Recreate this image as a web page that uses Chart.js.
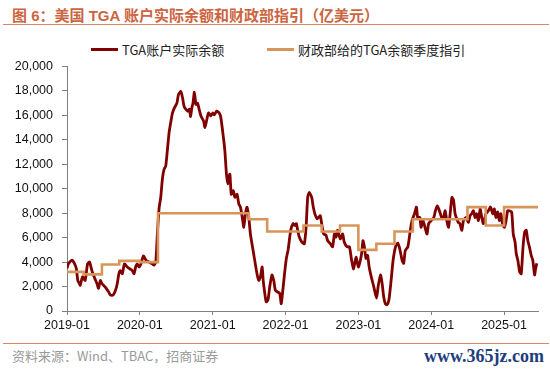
<!DOCTYPE html>
<html>
<head>
<meta charset="utf-8">
<script src="https://cdn.jsdelivr.net/npm/chart.js@4/dist/chart.umd.min.js"></script>
<style>
  html, body { margin: 0; padding: 0; background: #fff; }
  #wrap { position: relative; width: 550px; height: 373px; overflow: hidden; font-family: "Liberation Sans", "Noto Sans CJK SC", sans-serif; }
  #title { position: absolute; left: 12px; top: 4px; font: bold 15px "Liberation Sans", "Noto Sans CJK SC", sans-serif; color: #cc6440; white-space: nowrap; }
  .rule { position: absolute; left: 3px; width: 546px; height: 0; border-top: 1.5px solid #db8664; }
  #legend { position: absolute; top: 41px; left: 0; width: 550px; height: 16px; font: 13px "Noto Sans CJK SC", sans-serif; color: #222; }
  .lg { position: absolute; top: 0; display: flex; align-items: center; height: 16px; white-space: nowrap; }
  .lg i { display: inline-block; width: 27px; margin-right: 4px; }
  #source { position: absolute; left: 12px; top: 346px; font: 13px "Noto Sans CJK SC", sans-serif; color: #9a9a9a; white-space: nowrap; }
  #wm { position: absolute; right: 6px; top: 346px; font: bold 18px "Liberation Serif", "DejaVu Serif", serif; color: #1d3d7d; white-space: nowrap; }
  #box { position: absolute; left: 0; top: 50px; width: 550px; height: 290px; }
</style>
</head>
<body>
<div id="wrap">
  <div id="title">图 6：美国 TGA 账户实际余额和财政部指引（亿美元）</div>
  <div class="rule" style="top:24px"></div>
  <div id="legend">
    <div class="lg" style="left:91px"><i style="border-top:3px solid #800000"></i>TGA账户实际余额</div>
    <div class="lg" style="left:267px"><i style="border-top:3px solid #d8955b"></i>财政部给的TGA余额季度指引</div>
  </div>
  <div id="box"><canvas id="chart" width="550" height="290"></canvas></div>
  <div class="rule" style="top:343px"></div>
  <div id="source">资料来源：Wind、TBAC，招商证券</div>
  <div id="wm">www.365jz.com</div>
</div>
<script>
// TGA 实际余额（亿美元），按日期读图
var tgaDates = [
  '2019-01-01','2019-01-09','2019-01-26','2019-02-07','2019-02-17','2019-02-24','2019-03-04','2019-03-08','2019-03-20','2019-04-02',
  '2019-04-14','2019-04-24','2019-05-05','2019-05-17','2019-05-31','2019-06-08','2019-06-17','2019-06-25','2019-07-12','2019-07-29',
  '2019-08-07','2019-08-20','2019-09-01','2019-09-10','2019-09-18','2019-09-26','2019-10-05','2019-10-16','2019-10-30','2019-11-12',
  '2019-11-24','2019-12-03','2019-12-11','2019-12-19','2019-12-28','2020-01-06','2020-01-19','2020-02-01','2020-02-17','2020-03-04',
  '2020-03-12','2020-03-21','2020-03-29','2020-04-07','2020-04-15','2020-04-24','2020-05-02','2020-05-10','2020-05-18','2020-05-27',
  '2020-06-05','2020-06-13','2020-06-22','2020-07-05','2020-07-13','2020-07-25','2020-08-03','2020-08-11','2020-08-28','2020-09-06',
  '2020-09-12','2020-09-18','2020-09-24','2020-10-01','2020-10-09','2020-10-17','2020-10-25','2020-11-03','2020-11-16','2020-11-23',
  '2020-12-01','2020-12-11','2020-12-22','2021-01-01','2021-01-09','2021-01-21','2021-02-03','2021-02-11','2021-02-24','2021-03-03',
  '2021-03-11','2021-03-18','2021-03-28','2021-04-04','2021-04-14','2021-04-22','2021-05-03','2021-05-12','2021-05-20','2021-05-28',
  '2021-06-06','2021-06-14','2021-06-22','2021-07-01','2021-07-09','2021-07-25','2021-08-11','2021-08-20','2021-08-28','2021-09-06',
  '2021-09-11','2021-09-17','2021-09-26','2021-10-05','2021-10-14','2021-10-25','2021-11-03','2021-11-11','2021-11-23','2021-12-03',
  '2021-12-10','2021-12-15','2021-12-26','2022-01-05','2022-01-14','2022-01-27','2022-02-08','2022-02-16','2022-02-24','2022-03-03',
  '2022-03-11','2022-03-23','2022-04-05','2022-04-14','2022-04-22','2022-04-30','2022-05-12','2022-05-20','2022-05-28','2022-06-08',
  '2022-06-15','2022-06-24','2022-07-01','2022-07-11','2022-07-23','2022-07-31','2022-08-14','2022-08-25','2022-09-03','2022-09-11',
  '2022-09-19','2022-10-02','2022-10-14','2022-10-22','2022-11-05','2022-11-17','2022-11-28','2022-12-08','2022-12-20','2023-01-01',
  '2023-01-11','2023-01-18','2023-01-24','2023-01-31','2023-02-08','2023-02-16','2023-02-24','2023-03-03','2023-03-11','2023-03-19',
  '2023-04-02','2023-04-10','2023-04-22','2023-04-30','2023-05-08','2023-05-16','2023-05-24','2023-06-03','2023-06-14','2023-06-24',
  '2023-07-06','2023-07-17','2023-07-27','2023-08-08','2023-08-16','2023-08-24','2023-09-06','2023-09-19','2023-09-27','2023-10-09',
  '2023-10-19','2023-10-25','2023-11-05','2023-11-11','2023-11-21','2023-12-03','2023-12-11','2023-12-19','2024-01-01','2024-01-14',
  '2024-01-22','2024-01-31','2024-02-08','2024-02-16','2024-02-25','2024-03-03','2024-03-11','2024-03-19','2024-03-28','2024-04-05',
  '2024-04-14','2024-04-22','2024-04-30','2024-05-08','2024-05-16','2024-05-24','2024-06-03','2024-06-11','2024-06-24','2024-07-06',
  '2024-07-14','2024-07-22','2024-07-31','2024-08-08','2024-08-16','2024-08-25','2024-09-03','2024-09-11','2024-09-19','2024-10-02',
  '2024-10-14','2024-10-25','2024-11-05','2024-11-13','2024-11-21','2024-11-30','2024-12-08','2024-12-16','2024-12-24','2025-01-03',
  '2025-01-11','2025-01-19','2025-01-27','2025-02-08','2025-02-16','2025-02-25','2025-03-03','2025-03-11','2025-03-20','2025-03-28',
  '2025-04-06','2025-04-14','2025-04-22','2025-04-30','2025-05-08','2025-05-17','2025-05-25','2025-06-03','2025-06-08','2025-06-14'
];
var tgaValues = [
  3500,3900,4150,3900,3450,2500,2250,2100,2800,2500,
  3850,4000,3350,2800,2250,1850,2500,2250,1950,1550,
  1300,1300,1700,2250,3050,3300,3050,3850,3600,3450,
  3300,3050,3600,3850,3600,3850,4500,4150,4000,3850,
  3750,4000,6300,8450,9300,10900,11600,11850,13100,14600,
  15500,16200,16600,17000,17700,17950,17400,16700,16350,16500,
  15900,16600,17000,17900,16900,17000,16500,15950,15550,15000,
  15550,16200,15950,16200,16050,16350,16200,15800,14150,13100,
  11200,10400,11200,9550,9850,9300,9550,8750,8500,7800,
  6850,7950,8500,7650,6300,4700,3050,2500,2800,3600,
  2500,1700,750,900,2000,2950,2500,1700,1550,1450,
  600,1150,2900,4300,5000,6600,7150,7000,7150,6600,
  6050,5650,5500,6850,9300,9700,9300,8500,7950,7550,
  7650,7800,7150,6300,6200,5750,5500,5250,6300,6050,
  6600,5900,6300,5650,5250,5250,4150,3450,4400,3600,
  4150,4800,5750,5250,4300,4550,3600,3050,2500,2000,
  1050,2000,2950,2250,1150,600,500,900,2500,4150,
  5250,5550,5100,4150,3900,4950,5250,6700,7400,7950,
  8500,7650,7650,6850,7400,6700,6300,7150,7400,7650,
  8200,8600,8350,7950,7550,7650,8200,7400,6850,7950,
  9300,9050,7950,7550,7250,7150,6600,7400,7650,7250,
  7800,7950,8200,7650,7950,7400,8350,7650,7150,7950,
  8200,8500,7950,8350,7650,8100,7400,7950,7150,6850,
  7400,8200,8200,8100,6300,5650,4700,4150,3200,3050,
  5250,6450,6600,5750,5250,4550,4150,2950,3450,3900
];

// 财政部季度指引（阶梯），每个日期起生效
var guideDates  = ['2019-01-01','2019-03-25','2019-06-25','2019-09-20','2020-01-01','2020-04-01','2021-07-01','2021-10-01',
                   '2022-04-01','2022-07-01','2022-10-01','2023-01-01','2023-04-01','2023-07-01','2023-10-01','2024-07-01',
                   '2024-10-01','2025-01-01','2025-06-20'];
var guideValues = [3200, 3000, 3800, 4100, 4000, 8000, 7500, 6500,
                   7000, 6500, 7000, 5000, 5500, 6500, 7500, 8500,
                   7000, 8500, 8500];

var yearTicks = [2019, 2020, 2021, 2022, 2023, 2024, 2025];
var xStart = '2019-01-01';
var xEnd = '2025-06-20';

function toYear(s) {
  var p = s.split('-').map(Number);
  var t0 = Date.UTC(p[0], 0, 1), t1 = Date.UTC(p[0] + 1, 0, 1);
  return p[0] + (Date.UTC(p[0], p[1] - 1, p[2]) - t0) / (t1 - t0);
}

var tgaPoints = tgaDates.map(function (d, i) { return { x: toYear(d), y: tgaValues[i] }; });
var guidePoints = guideDates.map(function (d, i) { return { x: toYear(d), y: guideValues[i] }; });

var tickFont = { family: '"Liberation Sans", Arial, sans-serif', size: 12.5 };

new Chart(document.getElementById('chart'), {
  type: 'line',
  data: {
    datasets: [{
      label: 'TGA账户实际余额',
      data: tgaPoints,
      borderColor: '#800000',
      borderWidth: 2.8,
      pointRadius: 0,
      tension: 0.2,
      order: 2
    }, {
      label: '财政部给的TGA余额季度指引',
      data: guidePoints,
      borderColor: '#d8955b',
      borderWidth: 2.6,
      pointRadius: 0,
      stepped: true,
      order: 1
    }]
  },
  options: {
    responsive: false,
    animation: false,
    layout: { padding: { top: 15, right: 12, left: 0, bottom: 0 } },
    plugins: { legend: { display: false }, tooltip: { enabled: false } },
    scales: {
      x: {
        type: 'linear',
        min: toYear(xStart),
        max: toYear(xEnd),
        afterBuildTicks: function (scale) {
          scale.ticks = yearTicks.map(function (v) { return { value: v }; });
        },
        afterFit: function (scale) { scale.height = 29; },
        ticks: {
          autoSkip: false, maxRotation: 0, padding: 3, color: '#111', font: tickFont,
          callback: function (v) { return v + '-01'; }
        },
        grid: { drawOnChartArea: false, tickLength: 4, color: '#808080' },
        border: { color: '#808080', width: 1 }
      },
      y: {
        min: 0,
        max: 20000,
        afterFit: function (scale) { scale.width = 67; },
        ticks: {
          stepSize: 2000, padding: 9, color: '#111', font: tickFont,
          callback: function (v) { return v.toLocaleString('en-US'); }
        },
        grid: { drawOnChartArea: false, tickLength: 5, color: '#808080' },
        border: { color: '#808080', width: 1 }
      }
    }
  }
});
</script>
</body>
</html>
